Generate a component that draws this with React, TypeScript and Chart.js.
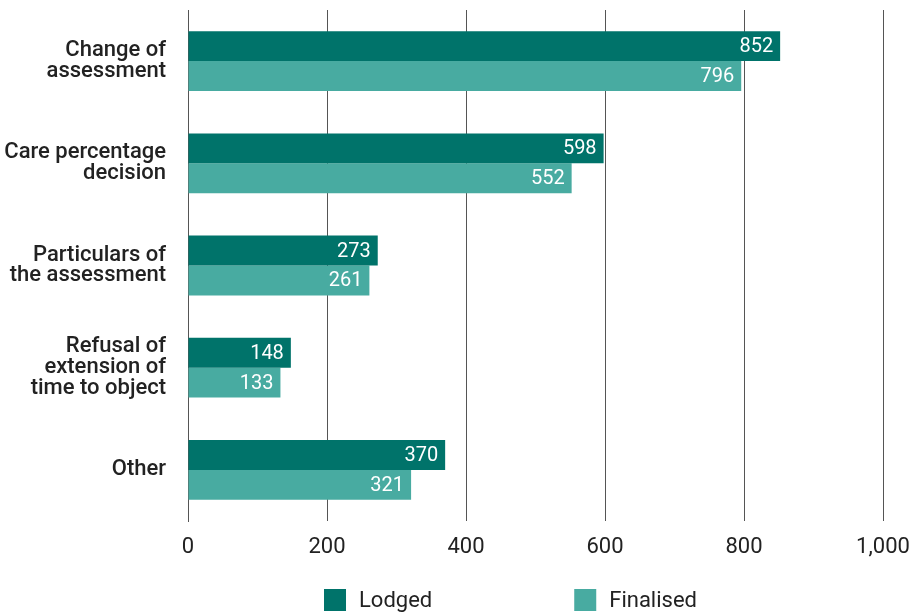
import React, { useEffect, useRef } from "react";
import { Chart, registerables } from "chart.js";

Chart.register(...registerables);

const categories: string[][] = [
  ["Change of", "assessment"],
  ["Care percentage", "decision"],
  ["Particulars of", "the assessment"],
  ["Refusal of", "extension of", "time to object"],
  ["Other"],
];
const lodged = [852, 598, 273, 148, 370];
const finalised = [796, 552, 261, 133, 321];
const seriesNames = ["Lodged", "Finalised"];
const seriesColors = ["#00736A", "#48ABA1"];
const xTicks = [0, 200, 400, 600, 800, 1000];

const FONT = "Roboto, 'Noto Sans', sans-serif";

// White value labels drawn inside the end of each bar
const valueLabels = {
  id: "valueLabels",
  afterDatasetsDraw(chart: any) {
    const { ctx } = chart;
    ctx.save();
    ctx.font = `20px ${FONT}`;
    ctx.fillStyle = "#ffffff";
    ctx.textAlign = "right";
    ctx.textBaseline = "middle";
    chart.data.datasets.forEach((ds: any, di: number) => {
      const meta = chart.getDatasetMeta(di);
      meta.data.forEach((bar: any, i: number) => {
        const v = ds.data[i];
        ctx.fillText(String(v), bar.x - 7, bar.y + 1);
      });
    });
    ctx.restore();
  },
};

// Legend row with square swatches, centred beneath the plot
const bottomLegend = {
  id: "bottomLegend",
  afterDraw(chart: any) {
    const { ctx, chartArea } = chart;
    const box = 22;
    const textGap = 13;
    const itemGap = 142;
    ctx.save();
    ctx.font = `22px ${FONT}`;
    ctx.textBaseline = "middle";
    ctx.textAlign = "left";
    const items = chart.data.datasets.map((ds: any) => ({
      label: ds.label,
      color: ds.backgroundColor,
      w: box + textGap + ctx.measureText(ds.label).width,
    }));
    const total =
      items.reduce((s: number, it: any) => s + it.w, 0) + itemGap * (items.length - 1);
    const cx = (chartArea.left + chartArea.right) / 2 - 25;
    let x = cx - total / 2;
    const y = chart.height - 13;
    items.forEach((it: any) => {
      ctx.fillStyle = it.color;
      ctx.fillRect(x, y - box / 2, box, box);
      ctx.fillStyle = "#222222";
      ctx.fillText(it.label, x + box + textGap, y + 1);
      x += it.w + itemGap;
    });
    ctx.restore();
  },
};

export default function App() {
  const ref = useRef<HTMLCanvasElement | null>(null);

  useEffect(() => {
    if (!ref.current) return;
    const chart = new Chart(ref.current, {
      type: "bar",
      data: {
        labels: categories,
        datasets: [
          { label: seriesNames[0], data: lodged, backgroundColor: seriesColors[0] },
          { label: seriesNames[1], data: finalised, backgroundColor: seriesColors[1] },
        ],
      },
      options: {
        indexAxis: "y",
        animation: false,
        responsive: false,
        layout: { padding: { top: 10, right: 29, bottom: 50, left: 0 } },
        datasets: {
          bar: { categoryPercentage: 0.585, barPercentage: 1.0, borderWidth: 0 },
        },
        plugins: {
          legend: { display: false },
          tooltip: { enabled: false },
        },
        scales: {
          x: {
            min: 0,
            max: 1000,
            afterBuildTicks(scale: any) {
              scale.ticks = xTicks.map((v) => ({ value: v }));
            },
            afterFit(scale: any) {
              scale.height = 42;
              scale.paddingLeft = 0;
              scale.paddingRight = 0;
            },
            grid: { color: "#555555", lineWidth: 1, drawTicks: false },
            border: { display: false },
            ticks: {
              padding: 13,
              color: "#222222",
              font: { family: FONT, size: 22 },
              callback: (v: any) => Number(v).toLocaleString("en-US"),
            },
          },
          y: {
            afterFit(scale: any) {
              scale.width = 188;
              scale.paddingTop = 0;
              scale.paddingBottom = 0;
            },
            grid: { display: false, drawTicks: false },
            border: { display: true, color: "#555555", width: 1 },
            ticks: {
              padding: 22,
              color: "#222222",
              font: { family: FONT, size: 22, weight: 500, lineHeight: 0.95 },
            },
          },
        },
      },
      plugins: [valueLabels, bottomLegend],
    });
    return () => chart.destroy();
  }, []);

  return (
    <div style={{ position: "fixed", left: 0, top: 0, width: 912, height: 613, background: "#fff" }}>
      <canvas ref={ref} width={912} height={613} />
    </div>
  );
}
